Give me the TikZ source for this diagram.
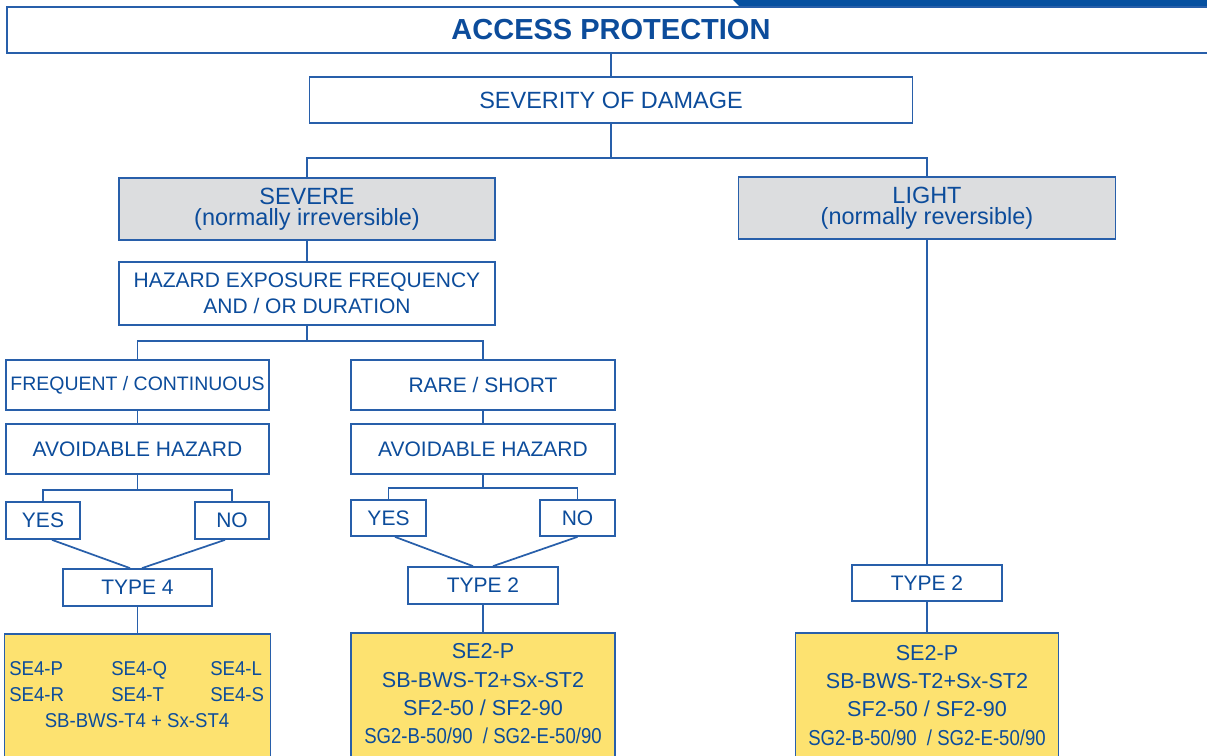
\documentclass[tikz,border=0pt]{standalone}
\usepackage{fontspec}
\usepackage{graphicx}
\setmainfont{Liberation Sans}
\newfontfamily\condfont[FakeStretch=0.93]{Liberation Sans}
\definecolor{lineblue}{RGB}{40,95,170}
\definecolor{textblue}{RGB}{12,76,155}
\definecolor{bandblue}{RGB}{6,80,160}
\definecolor{greyfill}{RGB}{220,221,223}
\definecolor{yel}{RGB}{253,226,112}
\newcommand\pxu{0.75pt}
\tikzset{
  ln/.style={draw=lineblue, line width=1.3pt},
  bx/.style 2 args={draw=lineblue, line width=1.3pt, fill=white, text=textblue,
    inner sep=0pt, align=center, minimum width=#1*\pxu, minimum height=#2*\pxu,
    font={\fontsize{15.75pt}{19.5pt}\selectfont}},
  gbx/.style 2 args={bx={#1}{#2}, fill=greyfill, font={\fontsize{17.6pt}{16.1pt}\selectfont}},
  ybx/.style 2 args={bx={#1}{#2}, fill=yel},
  ytxt/.style={text=textblue, inner sep=0pt, anchor=base, font={\fontsize{16.2pt}{18pt}\selectfont}},
  ltxt/.style={text=textblue, inner sep=0pt, anchor=base west, font={\condfont\fontsize{15pt}{18pt}\selectfont}},
}
\begin{document}
\begin{tikzpicture}[x=0.75pt,y=-0.75pt]
\useasboundingbox (0,0) rectangle (1207,756);
\clip (0,0) rectangle (1207,756);
% top band
\fill[bandblue] (731,-2) -- (1212,-2) -- (1212,7) -- (740,7) -- cycle;
% boxes
\node[bx={1208}{46}, font={\fontsize{21.75pt}{26pt}\selectfont\bfseries}] (title) at (611,30) {ACCESS PROTECTION};
\node[bx={603}{46}, font={\fontsize{17.6pt}{21pt}\selectfont}] (sev) at (611,100) {SEVERITY OF DAMAGE};
\node[gbx={376}{62}] (severe) at (307,209) {SEVERE\\(normally irreversible)};
\node[gbx={377}{62}] (light) at (927,208) {LIGHT\\(normally reversible)};
\node[bx={376}{63}] (hazard) at (307,293.5) {HAZARD EXPOSURE FREQUENCY\\AND / OR DURATION};
\node[bx={263}{50}, font={\fontsize{14.6pt}{18pt}\selectfont}] (freq) at (137.5,385) {FREQUENT / CONTINUOUS};
\node[bx={264}{50}] (rare) at (483,385) {RARE / SHORT};
\node[bx={263}{50}] (av1) at (137.5,449) {AVOIDABLE HAZARD};
\node[bx={264}{50}] (av2) at (483,449) {AVOIDABLE HAZARD};
\node[bx={74}{37}] (yes1) at (43,520.5) {YES};
\node[bx={74}{37}] (no1) at (232,520.5) {NO};
\node[bx={75}{36}] (yes2) at (388.5,518) {YES};
\node[bx={75}{36}] (no2) at (577.5,518) {NO};
\node[bx={149}{37}] (type4) at (137.5,587.5) {TYPE 4};
\node[bx={150}{37}] (type2a) at (483,585.5) {TYPE 2};
\node[bx={150}{36}] (type2b) at (927,583) {TYPE 2};
\node[ybx={266}{130}] (y1) at (137.5,699) {};
\node[ybx={264}{130}] (y2) at (483,698) {};
\node[ybx={263}{130}] (y3) at (927,698) {};
% junction points
\coordinate (j1) at (611,158);
\coordinate (j2) at (307,341);
\coordinate (j3) at (137.5,490);
\coordinate (j4) at (483,488);
% connectors
\draw[ln] (sev.north |- title.south) -- (sev.north);
\draw[ln] (sev.south) -- (j1);
\draw[ln] (severe.north) |- (j1) -| (light.north);
\draw[ln] (severe.south) -- (hazard.north);
\draw[ln] (hazard.south) -- (j2);
\draw[ln] (freq.north) |- (j2) -| (rare.north);
\draw[ln] (freq.south) -- (av1.north);
\draw[ln] (rare.south) -- (av2.north);
\draw[ln] (av1.south) -- (j3);
\draw[ln] (yes1.north) |- (j3) -| (no1.north);
\draw[ln] (av2.south) -- (j4);
\draw[ln] (yes2.north) |- (j4) -| (no2.north);
\draw[ln] ([xshift=9*\pxu]yes1.south) -- ([xshift=-7.5*\pxu]type4.north);
\draw[ln] ([xshift=-7*\pxu]no1.south) -- ([xshift=4.5*\pxu]type4.north);
\draw[ln] ([xshift=6.5*\pxu]yes2.south) -- ([xshift=-10*\pxu]type2a.north);
\draw[ln] ([xshift=0*\pxu]no2.south) -- ([xshift=10*\pxu]type2a.north);
\draw[ln] (type4.south) -- (y1.north);
\draw[ln] (type2a.south) -- (y2.north);
\draw[ln] (light.south) -- (type2b.north);
\draw[ln] (type2b.south) -- (y3.north);
% yellow box 1 text
\node[ltxt] (a1) at (9,675) {SE4-P};
\node[ltxt] (a2) at (111,675) {SE4-Q};
\node[ltxt] (a3) at (210,675) {SE4-L};
\node[ltxt] (a4) at (9,701) {SE4-R};
\node[ltxt] (a5) at (111,701) {SE4-T};
\node[ltxt] (a6) at (210,701) {SE4-S};
\node[ltxt, anchor=base] (a7) at (137,727) {SB-BWS-T4 + Sx-ST4};
% yellow box 2 text
\node[ytxt] (b1) at (483,658) {SE2-P};
\node[ytxt] (b2) at (483,687) {SB-BWS-T2+Sx-ST2};
\node[ytxt] (b3) at (483,715) {SF2-50 / SF2-90};
\node[ytxt] (b4) at (483,743) {\scalebox{0.86}[1]{SG2-B-50/90\ \ / SG2-E-50/90}};
% yellow box 3 text
\node[ytxt] (c1) at (927,660) {SE2-P};
\node[ytxt] (c2) at (927,688) {SB-BWS-T2+Sx-ST2};
\node[ytxt] (c3) at (927,716) {SF2-50 / SF2-90};
\node[ytxt] (c4) at (927,745) {\scalebox{0.86}[1]{SG2-B-50/90\ \ / SG2-E-50/90}};
\end{tikzpicture}
\end{document}
